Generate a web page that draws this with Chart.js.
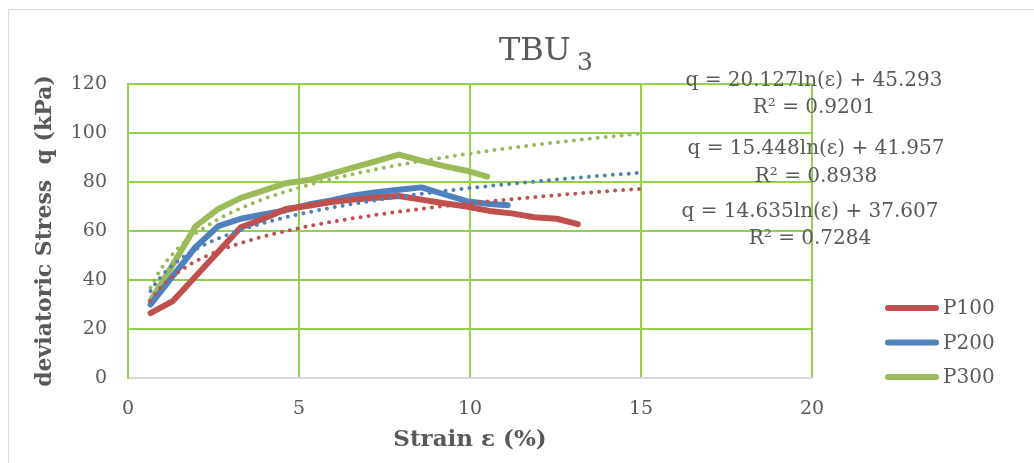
<!DOCTYPE html>
<html>
<head>
<meta charset="utf-8">
<title>TBU 3</title>
<script src="https://cdn.jsdelivr.net/npm/chart.js@4.4.1/dist/chart.umd.min.js"></script>
<style>
  html, body { margin: 0; padding: 0; background: #fff; }
  canvas { display: block; }
</style>
</head>
<body>
<canvas id="tbuChart" width="1034" height="463"></canvas>
<script>
// strain (%) vs deviatoric stress q (kPa) for each confining pressure
const seriesNames = ["P100", "P200", "P300"];
const seriesColors = ["#C0504D", "#4F81BD", "#9BBB59"];

const strainP100 = [0.66, 1.32, 1.98, 2.64, 3.3, 3.96, 4.62, 5.28, 5.94, 6.6, 7.26, 7.92, 8.58, 9.24, 9.9, 10.56, 11.22, 11.88, 12.54, 13.15];
const stressP100 = [26.5, 31.5, 41.5, 51.5, 61.5, 65, 69, 70.3, 71.8, 72.8, 73.6, 74.3, 72.8, 71.3, 70, 68.2, 67.2, 65.6, 65, 62.8];

const strainP200 = [0.66, 1.32, 1.98, 2.64, 3.3, 3.96, 4.62, 5.28, 5.94, 6.6, 7.26, 7.92, 8.58, 9.24, 9.9, 10.56, 11.1];
const stressP200 = [30, 41.8, 53.5, 62, 65, 66.8, 68.5, 70.8, 72.5, 74.5, 75.8, 76.8, 77.8, 75, 72.2, 71, 70.5];

const strainP300 = [0.66, 1.32, 1.98, 2.64, 3.3, 3.96, 4.62, 5.28, 5.94, 6.6, 7.26, 7.92, 8.58, 9.24, 9.9, 10.5];
const stressP300 = [31.5, 46.5, 62, 69, 73.5, 76.5, 79.5, 80.8, 83.3, 86, 88.5, 91.2, 88.7, 86.5, 84.6, 82.2];

// logarithmic trendlines q = a·ln(ε) + b
const trendSlopes = [14.635, 15.448, 20.127];
const trendIntercepts = [37.607, 41.957, 45.293];
const trendR2 = ["0.7284", "0.8938", "0.9201"];
const trendFrom = 0.66;
const trendTo = 15;

const xTickValues = [0, 5, 10, 15, 20];
const yTickValues = [0, 20, 40, 60, 80, 100, 120];

const textColor = "#595959";
const gridGreen = "#92D050";
const axisGray = "#D9D9D9";
const serif = "'DejaVu Serif', serif";

function toPoints(xs, ys) {
  return xs.map((x, i) => ({ x: x, y: ys[i] }));
}

function trendPoints(i) {
  const pts = [];
  const steps = 80;
  for (let k = 0; k <= steps; k++) {
    const x = trendFrom + (trendTo - trendFrom) * k / steps;
    pts.push({ x: x, y: trendSlopes[i] * Math.log(x) + trendIntercepts[i] });
  }
  return pts;
}

const measured = [
  toPoints(strainP100, stressP100),
  toPoints(strainP200, stressP200),
  toPoints(strainP300, stressP300)
];

const datasets = [];
seriesNames.forEach((name, i) => {
  datasets.push({
    label: name + " trend",
    data: trendPoints(i),
    borderColor: seriesColors[i],
    borderWidth: 4,
    borderDash: [0, 8],
    borderCapStyle: "round",
    pointRadius: 0,
    fill: false
  });
});
seriesNames.forEach((name, i) => {
  datasets.push({
    label: name,
    data: measured[i],
    borderColor: seriesColors[i],
    borderWidth: 6,
    borderCapStyle: "round",
    borderJoinStyle: "round",
    pointRadius: 0,
    fill: false
  });
});

// equation labels: [centre x, y of equation, y of R²]
const eqPlaces = [[810, 212, 239], [816, 149, 177], [814, 81, 108]];

const decorations = {
  id: "decorations",
  beforeDraw(chart) {
    const ctx = chart.ctx;
    ctx.save();
    ctx.strokeStyle = axisGray;
    ctx.lineWidth = 1;
    ctx.beginPath();
    ctx.moveTo(8.5, 463);
    ctx.lineTo(8.5, 9.5);
    ctx.lineTo(1034, 9.5);
    ctx.stroke();
    ctx.restore();
  },
  afterDraw(chart) {
    const ctx = chart.ctx;
    ctx.save();
    ctx.fillStyle = textColor;

    // title with subscript
    ctx.textAlign = "left";
    ctx.textBaseline = "alphabetic";
    ctx.font = "32px " + serif;
    ctx.fillText("TBU", 499, 60);
    ctx.font = "25px " + serif;
    ctx.fillText("3", 577, 70);

    // trendline equations
    ctx.textAlign = "center";
    ctx.textBaseline = "middle";
    ctx.font = "20px " + serif;
    eqPlaces.forEach((p, i) => {
      ctx.fillText("q = " + trendSlopes[i].toFixed(3) + "ln(ε) + " + trendIntercepts[i].toFixed(3), p[0], p[1]);
      ctx.fillText("R² = " + trendR2[i], p[0], p[2]);
    });

    // legend
    ctx.textAlign = "left";
    ctx.lineCap = "round";
    ctx.lineWidth = 6;
    seriesNames.forEach((name, i) => {
      const y = 308 + i * 34.5;
      ctx.strokeStyle = seriesColors[i];
      ctx.beginPath();
      ctx.moveTo(888, y);
      ctx.lineTo(936, y);
      ctx.stroke();
      ctx.fillText(name, 943, y + 1);
    });
    ctx.restore();
  }
};

new Chart(document.getElementById("tbuChart"), {
  type: "line",
  data: { datasets: datasets },
  options: {
    responsive: false,
    animation: false,
    events: [],
    layout: { padding: { top: 84, right: 222, left: 0, bottom: 0 } },
    plugins: {
      legend: { display: false },
      tooltip: { enabled: false },
      title: { display: false }
    },
    scales: {
      x: {
        type: "linear",
        min: 0,
        max: 20,
        afterBuildTicks: s => { s.ticks = xTickValues.map(v => ({ value: v })); },
        afterFit: s => { s.height = 85; },
        grid: { color: gridGreen, lineWidth: 2, drawTicks: false },
        border: { color: axisGray, width: 2 },
        ticks: { padding: 20, color: textColor, font: { family: serif, size: 19 } },
        title: {
          display: true,
          text: "Strain ε (%)",
          color: textColor,
          font: { family: serif, size: 23, weight: "bold" },
          padding: { top: 0, bottom: 9 }
        }
      },
      y: {
        type: "linear",
        min: 0,
        max: 120,
        afterBuildTicks: s => { s.ticks = yTickValues.map(v => ({ value: v })); },
        afterFit: s => { s.width = 128; },
        grid: {
          color: c => (c.tick && c.tick.value === 0 ? axisGray : gridGreen),
          lineWidth: 2,
          drawTicks: false
        },
        border: { color: gridGreen, width: 2 },
        ticks: { padding: 21, color: textColor, font: { family: serif, size: 19 } },
        title: {
          display: true,
          text: "deviatoric Stress  q (kPa)",
          color: textColor,
          font: { family: serif, size: 22, weight: "bold" },
          padding: { top: 32, bottom: 0 }
        }
      }
    }
  },
  plugins: [decorations]
});
</script>
</body>
</html>
